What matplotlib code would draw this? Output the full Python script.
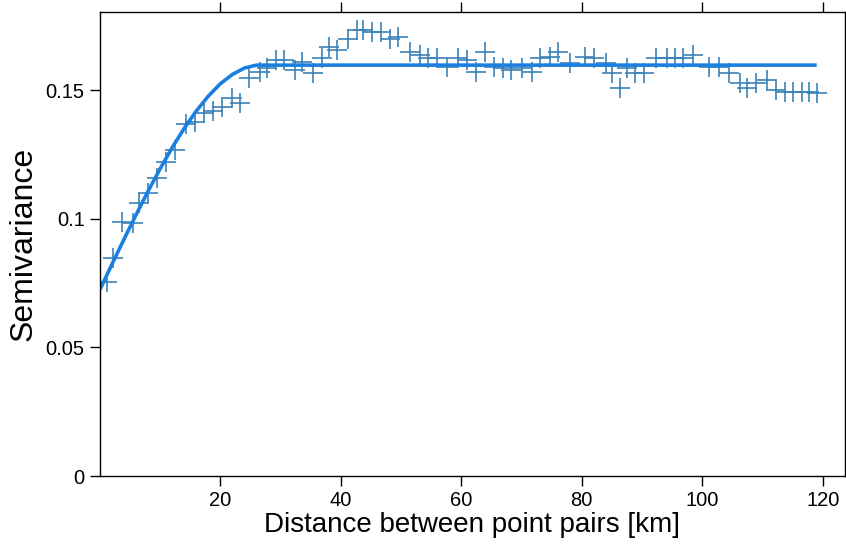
import matplotlib.pyplot as plt

plt.rcParams['font.family'] = ['Liberation Sans', 'DejaVu Sans']

dist_km = [1.2, 2.1, 3.7, 5.4, 6.5, 7.9, 9.5, 10.9, 12.5, 14.2, 15.8, 17.3,
           18.7, 20.3, 22.0, 23.2, 24.8, 26.5, 27.8, 29.3, 30.6, 32.3, 33.6,
           35.3, 36.8, 38.1, 39.3, 41.1, 42.6, 43.6, 45.1, 46.7, 48.1, 49.4,
           51.4, 53.1, 54.4, 55.9, 57.7, 59.4, 60.9, 62.5, 63.9, 65.5, 66.9,
           68.3, 70.0, 71.7, 73.0, 74.7, 76.0, 78.0, 80.5, 82.1, 84.1, 85.0,
           86.3, 87.5, 88.8, 90.4, 92.4, 94.1, 95.4, 96.8, 98.4, 101.1,
           102.7, 104.4, 106.2, 107.4, 109.0, 110.7, 112.2, 113.7, 115.0,
           116.5, 117.8, 119.0]
gamma = [0.0754, 0.0847, 0.0987, 0.0983, 0.106, 0.110, 0.1158, 0.122,
         0.1267, 0.137, 0.1376, 0.141, 0.142, 0.1434, 0.147, 0.145, 0.1547,
         0.157, 0.1586, 0.1617, 0.1617, 0.158, 0.161, 0.1566, 0.1625,
         0.1667, 0.1656, 0.170, 0.1733, 0.1733, 0.1726, 0.1726, 0.170,
         0.1706, 0.1648, 0.1636, 0.1625, 0.1625, 0.159, 0.1625, 0.1617,
         0.157, 0.1648, 0.159, 0.1586, 0.158, 0.1586, 0.157, 0.1625, 0.1628,
         0.1648, 0.1605, 0.1628, 0.1625, 0.1605, 0.1566, 0.1508, 0.1586,
         0.1566, 0.1566, 0.1625, 0.1625, 0.1625, 0.1625, 0.1636, 0.159,
         0.159, 0.1566, 0.1527, 0.1508, 0.1527, 0.154, 0.150, 0.1492,
         0.1492, 0.1492, 0.1492, 0.1488]

# fitted model line
model_km = [0, 2, 4, 6, 8, 10, 12, 14, 16, 18, 20, 22, 24, 26, 119]
model_gamma = [0.0725, 0.0824, 0.0921, 0.1016, 0.1108, 0.1195, 0.1277,
               0.1352, 0.1419, 0.1477, 0.1525, 0.1561, 0.1586, 0.1597, 0.1597]

x_ticks = [20, 40, 60, 80, 100, 120]
y_ticks = [0, 0.05, 0.1, 0.15]
y_labels = ["0", "0.05", "0.1", "0.15"]

fig = plt.figure(figsize=(8.46, 5.51), dpi=100)
ax = fig.add_axes([0.1182, 0.136, 0.8806, 0.842])

ax.plot(dist_km, gamma, linestyle="none", marker="+", markersize=15,
        markeredgewidth=1.2, color="#3c83b8")
ax.plot(model_km, model_gamma, color="#1b7fe0", linewidth=2.6,
        solid_capstyle="butt")

ax.set_xlim(0, 123.7)
ax.set_ylim(0, 0.1803)
ax.set_xticks(x_ticks)
ax.set_yticks(y_ticks)
ax.set_yticklabels(y_labels)
ax.tick_params(direction="out", length=7, width=1, labelsize=14.5, pad=4,
               top=True, right=True, labeltop=False, labelright=False)
for s in ax.spines.values():
    s.set_linewidth(1)

ax.set_xlabel("Distance between point pairs [km]", fontsize=20, labelpad=1)
ax.set_ylabel("Semivariance", fontsize=23, labelpad=5)

fig.savefig("out.png", dpi=100)
